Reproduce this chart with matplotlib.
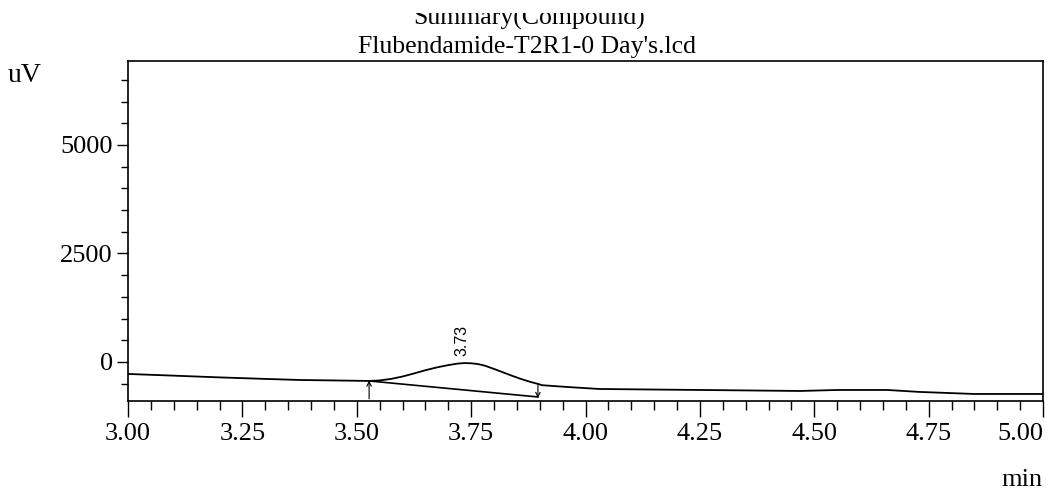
"""
Chromatogram summary: Flubendamide-T2R1-0 Day's.lcd
"""

import matplotlib
matplotlib.use("Agg")
import matplotlib.pyplot as plt  # pylint: disable=import-error
from matplotlib.patches import Rectangle
from matplotlib.ticker import MultipleLocator

# detector trace (min, uV)
times = [3.00, 3.10, 3.20, 3.30, 3.376, 3.45, 3.527, 3.55, 3.575, 3.60,
         3.625, 3.65, 3.675, 3.70, 3.72, 3.735, 3.75, 3.765, 3.78, 3.80,
         3.82, 3.84, 3.86, 3.88, 3.896, 3.905, 3.96, 4.03, 4.15, 4.30,
         4.469, 4.55, 4.66, 4.73, 4.85, 5.00]
signal = [-276, -315, -355, -390, -415, -425, -437, -425, -390, -335,
          -265, -190, -125, -72, -38, -25, -30, -48, -85, -160,
          -240, -320, -395, -460, -505, -535, -576, -622, -635, -650,
          -668, -645, -645, -690, -737, -737]

# drawn baseline under the peak and its start/end marks
base_times = [3.527, 3.896]
base_values = [-437, -806]
peak_time = 3.73
peak_value = -25

y_ticks = [0, 2500, 5000]
x_ticks = [3.00, 3.25, 3.50, 3.75, 4.00, 4.25, 4.50, 4.75, 5.00]


def main():
    plt.rcParams["font.family"] = ["Liberation Serif", "DejaVu Serif"]
    fig = plt.figure(figsize=(10.49, 4.95), dpi=100)
    ax = fig.add_axes([128 / 1049, 1 - 401 / 495, (1043 - 128) / 1049, 340 / 495])

    ax.plot(times, signal, c="black", lw=1.3)
    ax.plot(base_times, base_values, c="black", lw=1.2)

    # start / end arrows
    ax.annotate("", xy=(base_times[0], base_values[0] + 10),
                xytext=(base_times[0], -850),
                arrowprops=dict(arrowstyle="->", lw=0.8, color="black",
                                shrinkA=0, shrinkB=0, mutation_scale=8))
    ax.annotate("", xy=(base_times[1], -830),
                xytext=(base_times[1], -530),
                arrowprops=dict(arrowstyle="->", lw=0.8, color="black",
                                shrinkA=0, shrinkB=0, mutation_scale=8))

    ax.annotate(f"{peak_time:.2f}", xy=(peak_time, peak_value),
                xytext=(0, 5), textcoords="offset points",
                rotation=90, ha="center", va="bottom",
                fontsize=11.5, family=["Liberation Sans", "DejaVu Sans"])

    ax.set_xlim(3.0, 5.0)
    ax.set_ylim(-899, 6935)
    ax.set_xticks(x_ticks)
    ax.set_xticklabels([f"{t:.2f}" for t in x_ticks])
    ax.get_xticklabels()[-1].set_horizontalalignment("right")
    ax.set_yticks(y_ticks)
    ax.set_yticklabels([str(v) for v in y_ticks])
    ax.xaxis.set_minor_locator(MultipleLocator(0.05))
    ax.yaxis.set_minor_locator(MultipleLocator(500))

    ax.tick_params(axis="x", which="major", length=11.5, width=1.0,
                   labelsize=19, pad=4, direction="out", top=False)
    ax.tick_params(axis="x", which="minor", length=6.5, width=1.0,
                   direction="out", top=False)
    ax.tick_params(axis="y", which="major", length=8, width=1.0,
                   labelsize=19, pad=3, direction="out", right=False)
    ax.tick_params(axis="y", which="minor", length=5, width=1.0,
                   direction="out", right=False)
    for side in ax.spines.values():
        side.set_linewidth(1.2)

    fig.text(8 / 1049, 1 - 82 / 495, "uV", fontsize=20, va="baseline", ha="left")
    fig.text(1043 / 1049, 1 - 486 / 495, "min", fontsize=19,
             va="baseline", ha="right")

    fig.text(529 / 1049, 1 - 25 / 495, "Summary(Compound)", fontsize=18.5,
             ha="center", va="baseline")
    fig.text(527 / 1049, 1 - 53 / 495, "Flubendamide-T2R1-0 Day's.lcd",
             fontsize=18.5, ha="center", va="baseline")
    # the scan cuts off the top of the first title line
    fig.patches.append(Rectangle((0, 1 - 13 / 495), 1, 13 / 495,
                                 transform=fig.transFigure,
                                 facecolor="white", edgecolor="none",
                                 zorder=10))

    fig.savefig("out.png", dpi=100)


if __name__ == "__main__":
    main()
